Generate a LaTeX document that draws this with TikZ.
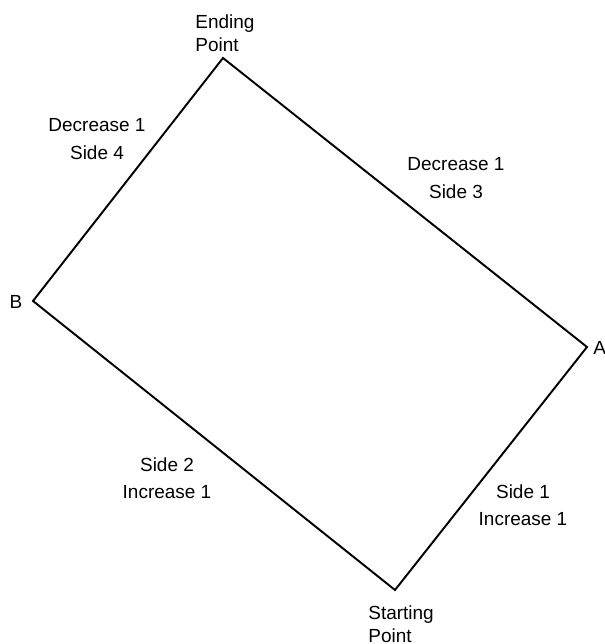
\documentclass[tikz,border=0pt]{standalone}
\usepackage{fontspec}
\setmainfont{Liberation Sans}

\begin{document}
\begin{tikzpicture}[
  side/.style={black,line width=1.1pt,line join=miter},
  lbl/.style={align=center,inner sep=0pt,font=\fontsize{10.8}{15.6}\selectfont},
  corner/.style={align=left,inner sep=0pt,font=\fontsize{10.8}{13}\selectfont}
]
  \useasboundingbox (0,0) rectangle (12.08,12.88);
  \coordinate (end) at (4.46,11.72);
  \coordinate (b) at (0.66,6.86);
  \coordinate (start) at (7.90,1.08);
  \coordinate (a) at (11.74,5.94);
  \draw[side] (start)--(a)--(end)--(b)--cycle;
  \node[corner,anchor=west] (endlbl) at (3.90,12.22) {Ending\\Point};
  \node[corner,anchor=west] (startlbl) at (7.36,0.40) {Starting\\Point};
  \node[lbl] (blbl) at (0.32,6.84) {B};
  \node[lbl,anchor=west] (albl) at (11.86,5.92) {A};
  \node[lbl] (side4) at (1.94,10.10) {Decrease 1\\Side 4};
  \node[lbl] (side3) at (9.12,9.32) {Decrease 1\\Side 3};
  \node[lbl] (side2) at (3.34,3.32) {Side 2\\Increase 1};
  \node[lbl] (side1) at (10.46,2.78) {Side 1\\Increase 1};
\end{tikzpicture}
\end{document}
